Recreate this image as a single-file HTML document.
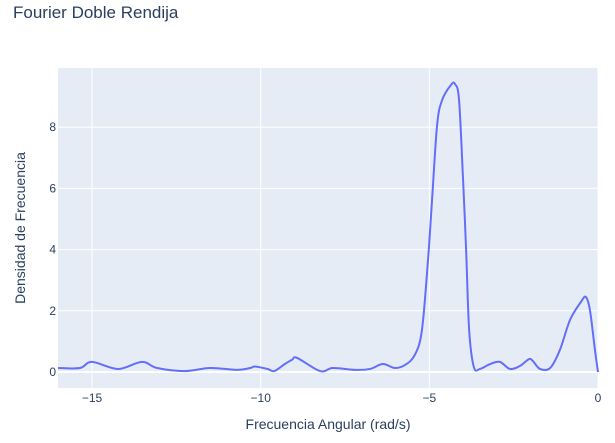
<!DOCTYPE html>
<html><head><meta charset="utf-8"><style>
body{margin:0;background:#fff;font-family:"Liberation Sans",sans-serif}
text{font-family:"Liberation Sans",sans-serif}
</style></head><body>
<svg id="c" width="615" height="438">
<text x="13" y="18" font-size="17" fill="#2a3f5f">Fourier Doble Rendija</text>
<rect x="58" y="68" width="540" height="320" fill="#e5ecf6"/>
<g id="grid"></g>
<path id="line" fill="none" stroke="#636efa" stroke-width="2"/>
<text x="328" y="429" font-size="14" fill="#2a3f5f" text-anchor="middle">Frecuencia Angular (rad/s)</text>
<text transform="translate(25,228) rotate(-90)" font-size="14" fill="#2a3f5f" text-anchor="middle">Densidad de Frecuencia</text>
</svg>
<script>
const xs=[-16.01,-15.36,-15.0,-14.23,-13.52,-13.07,-12.24,-11.5,-10.7,-10.31,-10.17,-9.8,-9.6,-9.3,-9.07,-8.92,-8.24,-7.86,-7.2,-6.76,-6.38,-6.02,-5.72,-5.43,-5.22,-5.04,-4.92,-4.77,-4.62,-4.36,-4.24,-4.12,-4.0,-3.91,-3.82,-3.68,-3.5,-3.2,-2.91,-2.61,-2.31,-2.05,-1.93,-1.72,-1.42,-1.13,-0.83,-0.5,-0.36,-0.24,-0.09,0];
const ys=[0.13,0.13,0.33,0.1,0.33,0.13,0.03,0.13,0.07,0.13,0.18,0.1,0.03,0.25,0.4,0.46,0.03,0.13,0.07,0.1,0.26,0.13,0.23,0.56,1.37,3.66,5.62,8.07,8.89,9.38,9.41,8.89,6.27,3.99,1.37,0.16,0.1,0.26,0.33,0.1,0.2,0.42,0.36,0.1,0.13,0.72,1.7,2.3,2.45,2.03,0.72,0];
const xTicks=[-15,-10,-5,0];
const yTicks=[0,2,4,6,8];
const X=v=>598+(v-0)*33.73, Y=v=>372-v*30.6;
const ns='http://www.w3.org/2000/svg', g=document.getElementById('grid');
function mk(t,a,p){const e=document.createElementNS(ns,t);for(const k in a)e.setAttribute(k,a[k]);p.appendChild(e);return e;}
xTicks.forEach(t=>{
 const l=mk('line',{x1:X(t),x2:X(t),y1:68,y2:388,stroke:'#fff','stroke-width':1},g);
 
 
 const tx=mk('text',{x:X(t),y:402,'font-size':12,fill:'#2a3f5f','text-anchor':'middle'},g);
 
 
 tx.textContent=t<0?'\u2212'+(-t):t;
});
yTicks.forEach(t=>{
 const l=mk('line',{x1:58,x2:598,y1:Y(t),y2:Y(t),stroke:'#fff','stroke-width':t==0?2:1},g);
 
 
 const tx=mk('text',{x:56,y:Y(t)+4,'font-size':12,fill:'#2a3f5f','text-anchor':'end'},g);
 
 
 tx.textContent=t;
});
const P=xs.map((x,i)=>[X(x),Y(ys[i])]);
let d='M'+P[0][0]+','+P[0][1];
for(let i=0;i<P.length-1;i++){
 const p0=P[Math.max(0,i-1)],p1=P[i],p2=P[i+1],p3=P[Math.min(P.length-1,i+2)];
 const c1=[p1[0]+(p2[0]-p0[0])/6,p1[1]+(p2[1]-p0[1])/6];
 const c2=[p2[0]-(p3[0]-p1[0])/6,p2[1]-(p3[1]-p1[1])/6];
 d+=`C${c1[0]},${c1[1]} ${c2[0]},${c2[1]} ${p2[0]},${p2[1]}`;
}
document.getElementById('line').setAttribute('d',d);
</script>
</body></html>
